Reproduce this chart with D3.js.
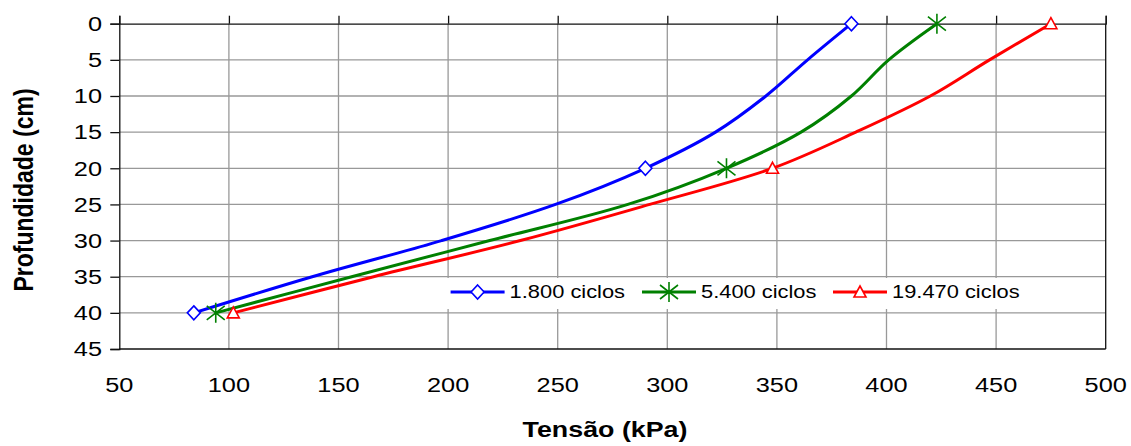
<!DOCTYPE html>
<html>
<head>
<meta charset="utf-8">
<script src="https://cdn.jsdelivr.net/npm/d3@7"></script>
<style>
  html, body { margin: 0; padding: 0; background: #fff; }
  svg { display: block; }
  text { font-family: "Liberation Sans", Arial, sans-serif; fill: #000; }
</style>
</head>
<body>
<svg id="chart" width="1131" height="446"></svg>
<script>
// ---- data ----
const depths = [0, 5, 10, 15, 20, 25, 30, 35, 40];
const markerIdx = [0, 4, 8];
const seriesNames = ["1.800 ciclos", "5.400 ciclos", "19.470 ciclos"];
const values1800 = [384, 364, 345, 322, 290, 249, 197, 138, 84];
const values5400 = [423, 401, 384, 361, 327, 282, 219, 156, 94];
const values19470 = [475, 447, 420, 386, 348, 292, 233, 166, 102];
const seriesColors = ["#0000FF", "#008000", "#FF0000"];
const seriesMarkers = ["diamond", "star", "triangle"];
const xTicks = [50, 100, 150, 200, 250, 300, 350, 400, 450, 500];
const yTicks = [0, 5, 10, 15, 20, 25, 30, 35, 40, 45];
const xTitle = "Tensão (kPa)";
const yTitle = "Profundidade (cm)";

const series = [values1800, values5400, values19470].map((vals, i) => ({
  name: seriesNames[i], color: seriesColors[i], marker: seriesMarkers[i],
  points: depths.map((d, j) => ({ d: d, v: vals[j], idx: j }))
}));

// ---- layout ----
const svg = d3.select("#chart");
const L = 119.3, R = 1105.7, T = 23.7, B = 349;
const x = d3.scaleLinear().domain([50, 500]).range([L, R]);
const y = d3.scaleLinear().domain([0, 45]).range([T, B]);

function stretchedText(g, str, px, py, size, sx, anchor, weight) {
  return g.append("text")
    .attr("transform", `translate(${px},${py}) scale(${sx},1)`)
    .attr("text-anchor", anchor)
    .attr("font-size", size)
    .attr("font-weight", weight || "normal")
    .text(str);
}

// gridlines
const grid = svg.append("g");
grid.selectAll("line.v").data(xTicks.slice(1, -1)).enter().append("line")
  .attr("x1", d => x(d)).attr("x2", d => x(d)).attr("y1", T).attr("y2", B)
  .attr("stroke", "#999").attr("stroke-width", 1.3);
grid.selectAll("line.h").data(yTicks.slice(1, -1)).enter().append("line")
  .attr("x1", L).attr("x2", R).attr("y1", d => y(d)).attr("y2", d => y(d))
  .attr("stroke", "#999").attr("stroke-width", 1.3);

// axes via d3
const topAxis = d3.axisTop(x).tickValues(xTicks).tickSize(8).tickFormat("");
svg.append("g").attr("transform", `translate(0,${T})`).call(topAxis)
  .call(g => g.selectAll("path,line").attr("stroke", "#111").attr("stroke-width", 1.3));
const leftAxis = d3.axisLeft(y).tickValues(yTicks).tickSize(9).tickFormat("");
svg.append("g").attr("transform", `translate(${L},0)`).call(leftAxis)
  .call(g => g.selectAll("path,line").attr("stroke", "#111").attr("stroke-width", 1.3));
// right and bottom border
svg.append("line").attr("x1", L).attr("x2", R).attr("y1", B).attr("y2", B)
  .attr("stroke", "#111").attr("stroke-width", 1.3);
svg.append("line").attr("x1", R).attr("x2", R).attr("y1", T).attr("y2", B)
  .attr("stroke", "#111").attr("stroke-width", 1.3);

// tick labels
const labels = svg.append("g");
yTicks.forEach(t => stretchedText(labels, String(t), 102, y(t) + 7.3, 19.5, 1.3, "end"));
xTicks.forEach(t => stretchedText(labels, String(t), x(t), 391.5, 19.5, 1.3, "middle"));

// axis titles
stretchedText(svg, xTitle, 605, 437, 22, 1.22, "middle", "bold");
svg.append("text")
  .attr("transform", `translate(33,190) rotate(-90) scale(1,1.2)`)
  .attr("text-anchor", "middle").attr("font-size", 23).attr("font-weight", "bold")
  .text(yTitle);

// markers
function drawMarker(g, type, color, cx, cy) {
  if (type === "diamond") {
    g.append("path").attr("d", `M${cx},${cy-7}L${cx+6.5},${cy}L${cx},${cy+7}L${cx-6.5},${cy}Z`)
      .attr("fill", "#fff").attr("stroke", color).attr("stroke-width", 1.6);
  } else if (type === "triangle") {
    g.append("path").attr("d", `M${cx},${cy-6}L${cx+6},${cy+5}L${cx-6},${cy+5}Z`)
      .attr("fill", "#fff").attr("stroke", color).attr("stroke-width", 1.6);
  } else {
    g.append("path").attr("d",
      `M${cx},${cy-10}L${cx},${cy+10}M${cx-9},${cy-7}L${cx+9},${cy+7}M${cx-9},${cy+7}L${cx+9},${cy-7}`)
      .attr("fill", "none").attr("stroke", color).attr("stroke-width", 1.6);
  }
}

// lines
const line = d3.line().x(p => x(p.v)).y(p => y(p.d)).curve(d3.curveCatmullRom.alpha(0.5));
const plot = svg.append("g");
series.forEach(s => {
  plot.append("path").datum(s.points).attr("d", line)
    .attr("fill", "none").attr("stroke", s.color).attr("stroke-width", 3)
    .attr("stroke-linejoin", "round");
});

// legend (background box covering gridlines)
const legend = svg.append("g");
legend.append("rect").attr("x", 444).attr("y", 278).attr("width", 584).attr("height", 31)
  .attr("fill", "#fff");
const legendX = [450.6, 642, 833];
const legendY = 292;
series.forEach((s, i) => {
  const lx = legendX[i];
  legend.append("line").attr("x1", lx).attr("x2", lx + 54).attr("y1", legendY).attr("y2", legendY)
    .attr("stroke", s.color).attr("stroke-width", 3);
  drawMarker(legend, s.marker, s.color, lx + 27, legendY);
  stretchedText(legend, s.name, lx + 59, legendY + 6.3, 17.5, 1.25, "start");
});

// data markers (on top)
series.forEach(s => {
  s.points.filter(p => markerIdx.includes(p.idx)).forEach(p => {
    drawMarker(plot, s.marker, s.color, x(p.v), y(p.d));
  });
});
</script>
</body>
</html>
